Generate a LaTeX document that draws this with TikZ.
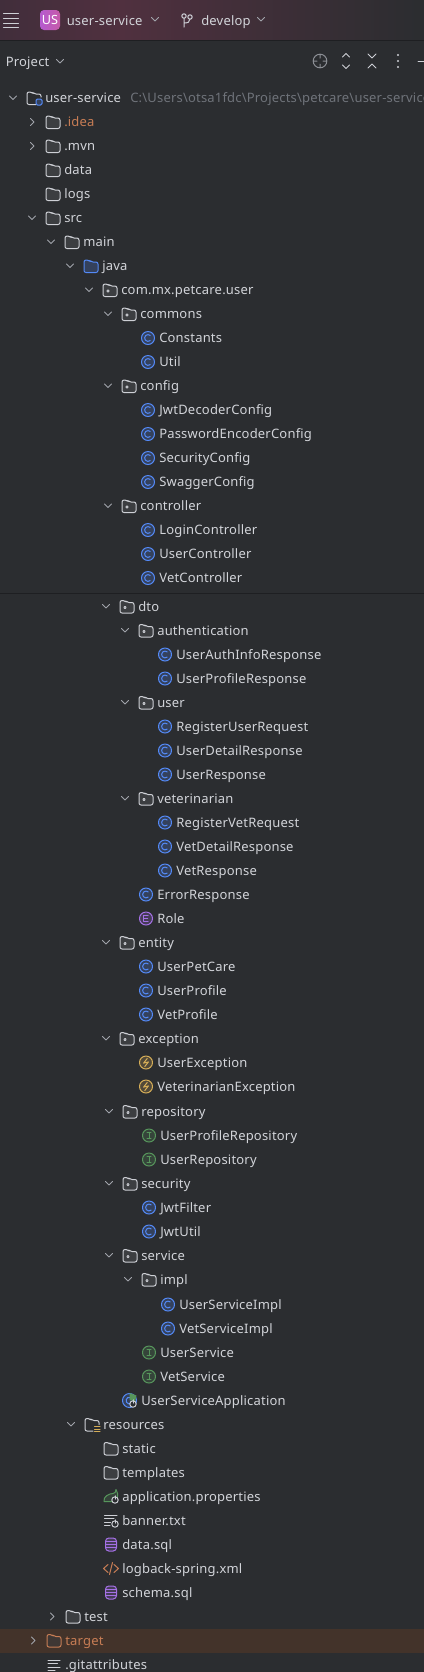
\documentclass[tikz,border=0pt]{standalone}
\usepackage{fontspec}
\setmainfont[LetterSpace=1.5]{Noto Sans}
\definecolor{cFondo}{HTML}{2B2D30}
\definecolor{cLinea}{HTML}{1E1F22}
\definecolor{cTexto}{HTML}{D2D4D9}
\definecolor{cGris}{HTML}{6F737A}
\definecolor{cChev}{HTML}{A0A3AA}
\definecolor{cIcono}{HTML}{CED0D6}
\definecolor{cAzul}{HTML}{548AF7}
\definecolor{cVerde}{HTML}{57965C}
\definecolor{cAmbar}{HTML}{D6AE58}
\definecolor{cMorado}{HTML}{A571E6}
\definecolor{cNaranja}{HTML}{C77D55}
\definecolor{cBarraIzq}{HTML}{412E3B}
\definecolor{cBarraMed}{HTML}{50303F}
\definecolor{cUsIzq}{HTML}{B55BD0}
\definecolor{cUsDer}{HTML}{C65AA8}
\definecolor{cSel}{HTML}{43332A}
\tikzset{
    x=0.75pt, y=-0.75pt, font=\fontsize{9.75pt}{12pt}\selectfont,
    lbl/.style={text=cTexto, inner sep=0pt},
    lblroot/.style={lbl, font=\fontsize{9.75pt}{12pt}\selectfont\bfseries},
    lblpath/.style={lbl, text=cGris},
    lblout/.style={lbl, text=cNaranja},
    stk/.style={line width=0.75pt, line join=round, line cap=round},
    chev/.style={stk, cChev},
    tool/.style={stk, cIcono},
    dir/.style={stk, draw=cIcono, fill=white!8!cFondo, rounded corners=1.5pt},
    chevdown/.pic={\draw[chev] (-3.5,-2) -- (0,1.5) -- (3.5,-2);},
    chevright/.pic={\draw[chev] (-1.5,-3.5) -- (2,0) -- (-1.5,3.5);},
    folder/.pic={\draw[dir] (-7,-6) -- (-2,-6) -- (0,-4) -- (7,-4) -- (7,6.5) -- (-7,6.5) -- cycle;},
    folderout/.pic={\draw[dir, draw=cNaranja, fill=cNaranja!12!cFondo] (-7,-6) -- (-2,-6) -- (0,-4) -- (7,-4) -- (7,6.5) -- (-7,6.5) -- cycle;},
    foldersrc/.pic={\draw[dir, draw=cAzul, fill=cAzul!22!cFondo] (-7,-6) -- (-2,-6) -- (0,-4) -- (7,-4) -- (7,6.5) -- (-7,6.5) -- cycle;},
    pkg/.pic={\draw[dir] (-7,-6) -- (-2,-6) -- (0,-4) -- (7,-4) -- (7,6.5) -- (-7,6.5) -- cycle;
              \draw[stk, cIcono, line width=0.6pt] (-2,1) circle[radius=1.2];},
    module/.pic={\draw[dir, fill=none] (2,6.5) -- (-7,6.5) -- (-7,-6) -- (-2,-6) -- (0,-4) -- (7,-4) -- (7,-1);
                 \draw[stk, cAzul, fill=cAzul!22!cFondo, rounded corners=1pt] (2,1) rectangle (8,7);},
    resdir/.pic={\draw[dir, fill=none] (1,6.5) -- (-7,6.5) -- (-7,-6) -- (-2,-6) -- (0,-4) -- (7,-4) -- (7,0);
                 \draw[stk, cAmbar] (2.5,2) -- (8,2) (2.5,4.5) -- (8,4.5) (2.5,7) -- (8,7);},
    badge/.style={stk, draw=#1, fill=#1!22!cFondo},
    kclass/.pic={\draw[badge=cAzul] (0,0) circle[radius=6.5];
                 \draw[stk, cAzul] (0,0) ++(50:3.4) arc[start angle=50, end angle=310, radius=3.4];},
    kiface/.pic={\draw[badge=cVerde] (0,0) circle[radius=6.5];
                 \draw[stk, cVerde] (-2,-3.2) -- (2,-3.2) (0,-3.2) -- (0,3.2) (-2,3.2) -- (2,3.2);},
    kenum/.pic={\draw[badge=cMorado] (0,0) circle[radius=6.5];
                \draw[stk, cMorado] (2.2,-3.2) -- (-2.2,-3.2) -- (-2.2,3.2) -- (2.2,3.2) (-2.2,0) -- (1.6,0);},
    kerror/.pic={\draw[badge=cAmbar] (0,0) circle[radius=6.5];
                 \draw[stk, cAmbar] (1.2,-4) -- (-2.4,0.6) -- (2.4,-0.6) -- (-1.2,4);},
    power/.pic={\draw[stk, cIcono, fill=cFondo] (0,0) circle[radius=3.2];
                \draw[stk, cIcono] (0,-4.2) -- (0,-0.8);},
    kboot/.pic={\draw[badge=cAzul] (-0.5,0) circle[radius=7];
                \draw[stk, cAzul] (-0.5,0) ++(60:3.4) arc[start angle=60, end angle=300, radius=3.4];
                \fill[cVerde] (-0.5,-0.5) -- (-0.5,-7.5) -- (6.5,-5) -- (5,1) -- cycle;
                \pic at (3,3.5) {power};},
    kprops/.pic={\draw[stk, cVerde, fill=cVerde!20!cFondo] (-7,5) .. controls (-8,0) and (-2,-3) .. (2,-3) .. controls (4,-3) and (5,-5) .. (5,-7) .. controls (8,-2) and (7,3) .. (2,5) -- cycle;
                 \pic at (4,3.5) {power};},
    kbanner/.pic={\draw[stk, cIcono] (-6.5,-5.5) -- (6,-5.5) (-6.5,-2) -- (3,-2) (-6.5,1.5) -- (-0.5,1.5) (-6.5,5) -- (-1,5);
                  \pic at (4,3.5) {power};},
    kdb/.pic={\draw[stk, cMorado, fill=cMorado!22!cFondo, rounded corners=2.5pt] (-5.5,-6.5) rectangle (5.5,6.5);
              \draw[stk, cMorado] (-5.5,-3.5) -- (5.5,-3.5) (-5.5,-0.5) -- (5.5,-0.5) (-5.5,3) -- (5.5,3);},
    kxml/.pic={\draw[stk, cNaranja] (-3,-4) -- (-7.5,0) -- (-3,4) (3,-4) -- (7.5,0) -- (3,4) (1.5,-6) -- (-1.5,6);},
    ktext/.pic={\draw[stk, cIcono] (-6,-4.5) -- (6,-4.5) (-6,-1) -- (3.5,-1) (-6,2.5) -- (6,2.5) (-6,6) -- (1,6);},
}
% fila de arbol: x e y son los del centro del icono
\newcommand{\leafrow}[6][lbl]{%
    \pic at (#4,#5) {#3};
    \node[#1, anchor=base west] (#2) at ({#4+11},{#5+4.5}) {#6};
}
\newcommand{\openrow}[6][lbl]{%
    \pic at ({#4-21},#5) {chevdown};
    \leafrow[#1]{#2}{#3}{#4}{#5}{#6}
}
\newcommand{\closedrow}[6][lbl]{%
    \pic at ({#4-21},#5) {chevright};
    \leafrow[#1]{#2}{#3}{#4}{#5}{#6}
}

\begin{document}
\begin{tikzpicture}
    \useasboundingbox (0,0) rectangle (424,1672);
    \begin{scope}
    \clip (0,0) rectangle (424,1672);
    \fill[cFondo] (0,0) rectangle (424,1672);

    % barra superior
    \shade[left color=cBarraIzq, right color=cBarraMed] (0,0) rectangle (120,40);
    \shade[left color=cBarraMed, right color=cFondo] (120,0) rectangle (424,40);
    \draw[cLinea, line width=0.75pt] (0,40.5) -- (424,40.5);
    \draw[tool] (3.5,13) -- (18.5,13) (3.5,18) -- (18.5,18) (3.5,23) -- (18.5,23) (3.5,27.5) -- (18.5,27.5);
    \shade[left color=cUsIzq, right color=cUsDer, rounded corners=3pt] (40,10) rectangle (60,30);
    \node[lbl, text=white, font=\fontsize{9.5pt}{12pt}\selectfont] (badgeUS) at (50,20) {US};
    \node[lbl, anchor=base west] (barProject) at (66.5,25) {user-service};
    \pic at (155,19.5) {chevdown};
    \draw[tool] (184,18) -- (184,27) (184,23) .. controls (188,23) and (190,22) .. (190,19);
    \draw[tool] (184,16) circle[radius=2.2] (190,17) circle[radius=2.2];
    \node[lbl, anchor=base west] (barBranch) at (201,25) {develop};
    \pic at (261,19.5) {chevdown};

    % cabecera del panel
    \node[lbl, anchor=base west, font=\fontsize{9.75pt}{12pt}\selectfont\bfseries] (panelTitle) at (5.5,66) {Project};
    \pic at (60,61.5) {chevdown};
    \draw[stk, cGris!80] (320,61) circle[radius=6.8] (320,54.5) -- (320,58) (320,64) -- (320,67.5) (313.5,61) -- (317,61) (323,61) -- (326.5,61);
    \draw[tool] (342.5,57) -- (346,53.5) -- (349.5,57) (342.5,65) -- (346,68.5) -- (349.5,65);
    \draw[tool] (368,54) -- (372,58) -- (376,54) (368,68) -- (372,64) -- (376,68);
    \fill[cIcono] (398,55) circle[radius=1.1] (398,61) circle[radius=1.1] (398,67) circle[radius=1.1];
    \draw[tool] (418,61) -- (424,61);

    % arbol
    \openrow[lblroot]{nRoot}{module}{34}{98}{user-service}
    \node[lblpath, anchor=base west] (nRootPath) at (130,102.5) {C:\textbackslash Users\textbackslash otsa1fdc\textbackslash Projects\textbackslash petcare\textbackslash user-service};
    \closedrow[lblout]{nIdea}{folder}{53}{122}{.idea}
    \closedrow{nMvn}{folder}{53}{146}{.mvn}
    \leafrow{nData}{folder}{53}{170}{data}
    \leafrow{nLogs}{folder}{53}{194}{logs}
    \openrow{nSrc}{folder}{53}{218}{src}
    \openrow{nMain}{folder}{72}{242}{main}
    \openrow{nJava}{foldersrc}{91}{266}{java}
    \openrow{nBase}{pkg}{110}{290}{com.mx.petcare.user}
    \openrow{nCommons}{pkg}{129}{314}{commons}
    \leafrow{nConstants}{kclass}{148}{338}{Constants}
    \leafrow{nUtil}{kclass}{148}{362}{Util}
    \openrow{nConfig}{pkg}{129}{386}{config}
    \leafrow{nJwtDec}{kclass}{148}{410}{JwtDecoderConfig}
    \leafrow{nPassEnc}{kclass}{148}{434}{PasswordEncoderConfig}
    \leafrow{nSecCfg}{kclass}{148}{458}{SecurityConfig}
    \leafrow{nSwagger}{kclass}{148}{482}{SwaggerConfig}
    \openrow{nController}{pkg}{129}{506}{controller}
    \leafrow{nLoginCtl}{kclass}{148}{530}{LoginController}
    \leafrow{nUserCtl}{kclass}{148}{554}{UserController}
    \leafrow{nVetCtl}{kclass}{148}{578}{VetController}

    % costura entre capturas
    \draw[cLinea, line width=0.75pt] (0,593.5) -- (424,593.5);

    \openrow{nDto}{pkg}{127}{606.5}{dto}
    \openrow{nAuth}{pkg}{146}{630.5}{authentication}
    \leafrow{nAuthInfo}{kclass}{165}{654.5}{UserAuthInfoResponse}
    \leafrow{nProfResp}{kclass}{165}{678.5}{UserProfileResponse}
    \openrow{nUserDto}{pkg}{146}{702.5}{user}
    \leafrow{nRegUser}{kclass}{165}{726.5}{RegisterUserRequest}
    \leafrow{nUserDet}{kclass}{165}{750.5}{UserDetailResponse}
    \leafrow{nUserResp}{kclass}{165}{774.5}{UserResponse}
    \openrow{nVetDto}{pkg}{146}{798.5}{veterinarian}
    \leafrow{nRegVet}{kclass}{165}{822.5}{RegisterVetRequest}
    \leafrow{nVetDet}{kclass}{165}{846.5}{VetDetailResponse}
    \leafrow{nVetResp}{kclass}{165}{870.5}{VetResponse}
    \leafrow{nErrResp}{kclass}{146}{894.5}{ErrorResponse}
    \leafrow{nRole}{kenum}{146}{918.5}{Role}
    \openrow{nEntity}{pkg}{127}{942.5}{entity}
    \leafrow{nPetCare}{kclass}{146}{966.5}{UserPetCare}
    \leafrow{nUserProf}{kclass}{146}{990.5}{UserProfile}
    \leafrow{nVetProf}{kclass}{146}{1014.5}{VetProfile}
    \openrow{nException}{pkg}{127}{1038.5}{exception}
    \leafrow{nUserExc}{kerror}{146}{1062.5}{UserException}
    \leafrow{nVetExc}{kerror}{146}{1086.5}{VeterinarianException}

    \openrow{nRepo}{pkg}{130}{1111.5}{repository}
    \leafrow{nProfRepo}{kiface}{149}{1135.5}{UserProfileRepository}
    \leafrow{nUserRepo}{kiface}{149}{1159.5}{UserRepository}
    \openrow{nSecurity}{pkg}{130}{1183.5}{security}
    \leafrow{nJwtFilter}{kclass}{149}{1207.5}{JwtFilter}
    \leafrow{nJwtUtil}{kclass}{149}{1231.5}{JwtUtil}
    \openrow{nService}{pkg}{130}{1255.5}{service}
    \openrow{nImpl}{pkg}{149}{1279.5}{impl}
    \leafrow{nUserImpl}{kclass}{168}{1304.5}{UserServiceImpl}
    \leafrow{nVetImpl}{kclass}{168}{1328.5}{VetServiceImpl}
    \leafrow{nUserSrv}{kiface}{149}{1352.5}{UserService}
    \leafrow{nVetSrv}{kiface}{149}{1376.5}{VetService}
    \leafrow{nApp}{kboot}{130}{1400.5}{UserServiceApplication}

    \openrow{nRes}{resdir}{92}{1424.5}{resources}
    \leafrow{nStatic}{folder}{111}{1448.5}{static}
    \leafrow{nTempl}{folder}{111}{1472.5}{templates}
    \leafrow{nProps}{kprops}{111}{1496.5}{application.properties}
    \leafrow{nBanner}{kbanner}{111}{1520.5}{banner.txt}
    \leafrow{nDataSql}{kdb}{111}{1544.5}{data.sql}
    \leafrow{nLogback}{kxml}{111}{1568.5}{logback-spring.xml}
    \leafrow{nSchema}{kdb}{111}{1592.5}{schema.sql}
    \closedrow{nTest}{folder}{73}{1616.5}{test}

    \fill[cSel] (0,1628.5) rectangle (424,1652.5);
    \closedrow[lblout]{nTarget}{folderout}{54}{1640.5}{target}
    \leafrow{nGit}{ktext}{54}{1664.5}{.gitattributes}
    \end{scope}
\end{tikzpicture}
\end{document}
